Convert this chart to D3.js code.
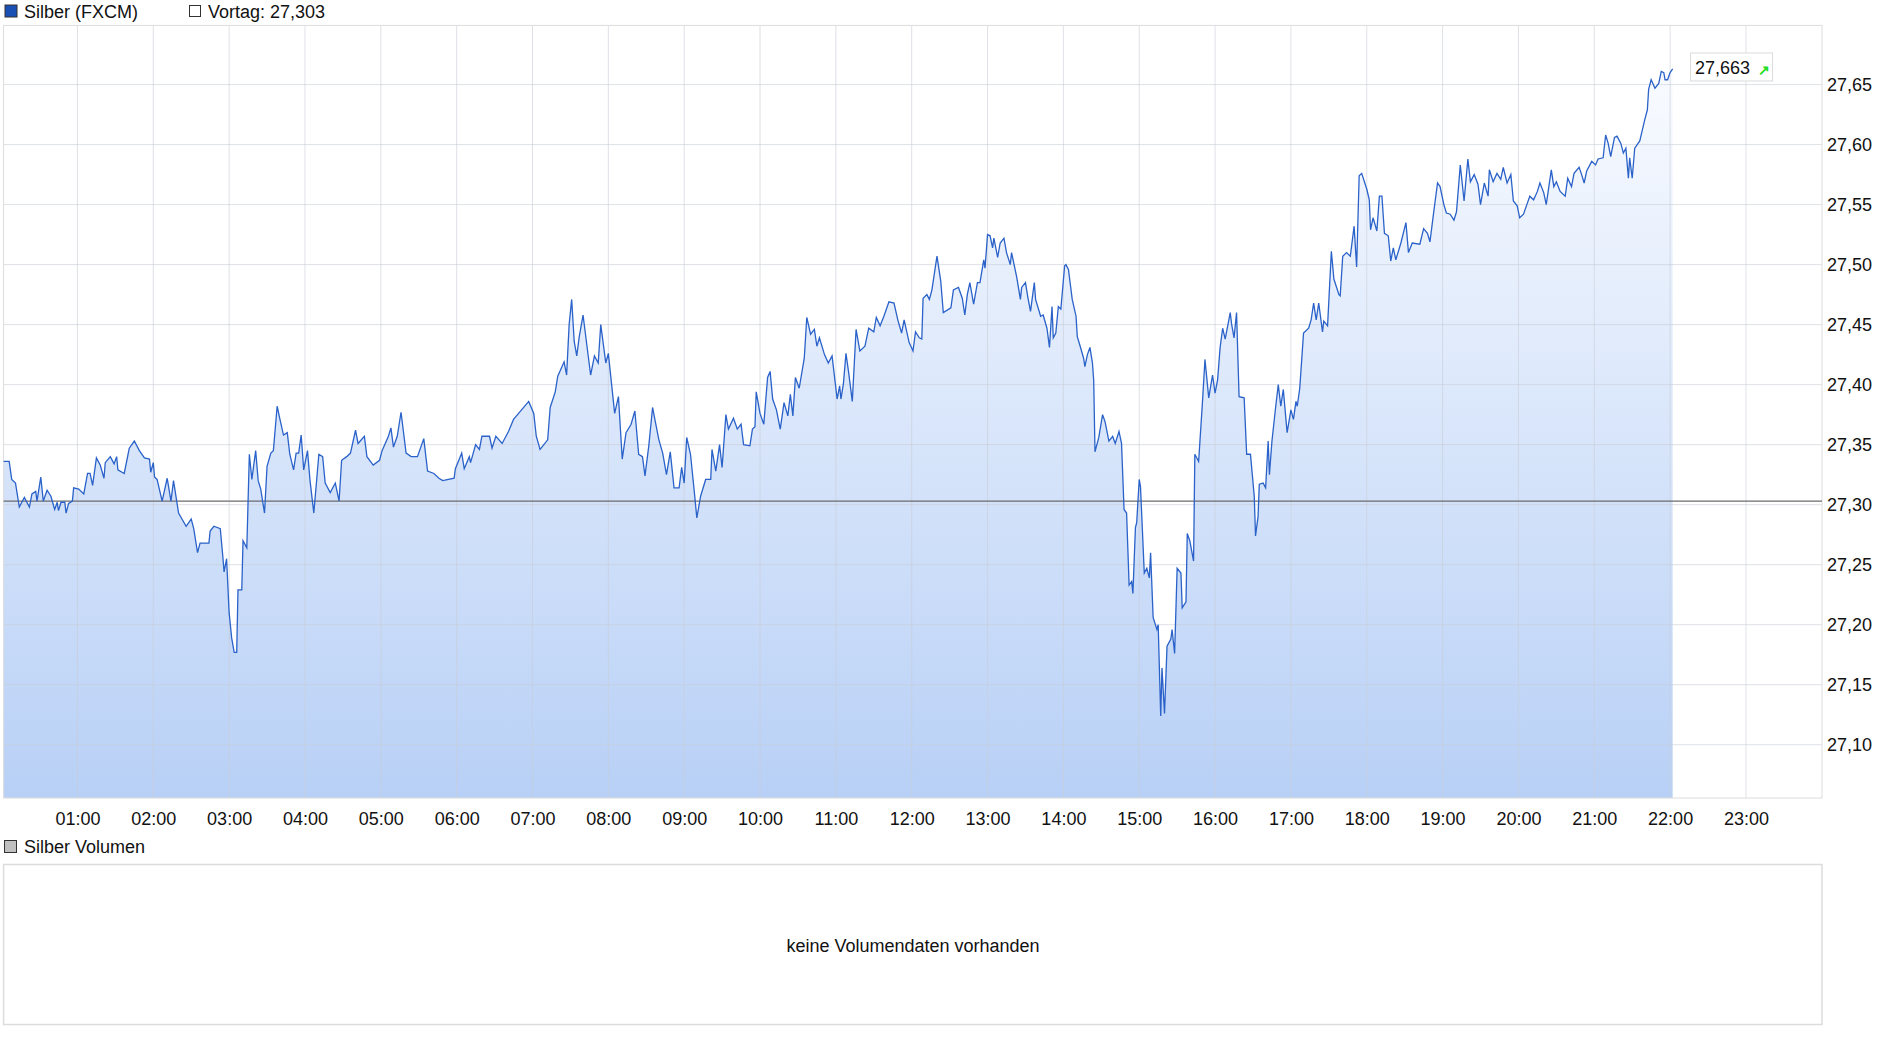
<!DOCTYPE html>
<html><head><meta charset="utf-8">
<script src="https://cdn.jsdelivr.net/npm/d3@7"></script>
<style>body{margin:0;background:#fff}svg{display:block;font-family:"Liberation Sans",Arial,sans-serif}</style>
</head><body><svg id="c" width="1880" height="1037"></svg>
<script>
// minutes after midnight
const times = [0,3,6,8,11,14,18,22,24,27,28,31,33,36,39,42,44,45,47,50,51,53,56,57,61,65,68,70,72,75,78,81,82,86,89,91,92,97,101,105,109,113,117,118,120,121,
123,127,131,134,136,140,146,150,152,155,157,164,165,168,173,175,176,178,180,182,184,186,187,190,191,194,196,198,201,203,205,208,210,213,215,218,220,223,226,228,231,233,235,237,239,242,244,247,251,254,256,260,264,267,269,273,276,280,282,287,289,294,299,301,306,308,310,313,316,320,324,329,334,337,342,346,349,358,359,364,366,370,
371,375,378,380,386,388,391,396,401,405,409,413,417,421,423,426,432,434,438,440,445,447,449,451,453,455,457,460,463,466,469,472,474,478,480,483,485,488,491,494,498,501,504,507,509,512,515,517,520,523,526,529,532,536,538,540,542,545,548,550,553,557,561,562,565,568,570,573,575,579,582,585,587,592,594,596,597,600,603,606,608,610,613,616,619,622,624,626,628,631,635,637,640,643,645,647,651,654,657,661,663,664,666,668,670,673,676,679,683,686,690,692,695,698,702,706,709,712,714,718,721,723,726,728,729,732,734,736,740,743,
745,751,753,757,760,762,764,766,769,772,774,777,778,780,782,784,785,788,790,793,795,798,799,803,806,807,810,812,814,817,818,822,824,827,829,831,832,834,836,838,841,842,844,847,850,851,853,856,857,859,861,863,864,865,868,871,873,876,879,881,884,886,888,890,892,894,895,897,898,900,901,904,906,908,909,911,914,915,917,918,920,922,925,926,928,930,933,934,937,938,940,943,944,947,950,952,955,958,960,962,964,966,968,972,973,975,977,979,983,985,988,991,992,994,995,998,1000,1002,1003,1005,1008,1010,1012,1014,1017,1020,1022,1024,1025,1027,1030,1034,1036,1038,1040,1042,1045,1046,1049,1052,1054,1058,1059,1061,1064,1067,1070,1072,
1074,1076,1080,1082,1083,1085,1088,1090,1092,1094,1097,1099,1101,1103,1107,1111,1113,1116,1122,1125,1128,1130,1133,1136,1138,1141,1143,1146,1149,1151,1154,1157,1160,1162,1165,1168,1170,1173,1176,1177,1180,1183,1186,1188,1191,1194,1196,1199,1201,1204,1207,1209,1212,1215,1217,1220,1222,1226,1228,1230,1233,1237,1239,1242,1244,1248,1250,1252,1254,1258,1261,1263,1267,1269,1271,1273,1276,1278,1281,1283,1285,1287,1288,1290,1292,1296,1298,1300,1302,1303,1305,1308,1311,1313,1315,1316,1318,1320,1322];
const prices = [27.336,27.336,27.336,27.321,27.318,27.298,27.306,27.298,27.309,27.311,27.303,27.323,27.303,27.312,27.307,27.296,27.302,27.295,27.302,27.302,27.293,27.301,27.303,27.314,27.313,27.309,27.326,27.326,27.316,27.339,27.333,27.322,27.335,27.340,27.334,27.340,27.329,27.326,27.347,27.353,27.345,27.339,27.338,27.327,27.335,27.323,
27.321,27.303,27.322,27.303,27.320,27.293,27.282,27.288,27.280,27.260,27.268,27.268,27.278,27.282,27.280,27.257,27.244,27.255,27.210,27.189,27.177,27.177,27.229,27.229,27.270,27.264,27.342,27.321,27.345,27.320,27.313,27.293,27.332,27.343,27.345,27.382,27.372,27.358,27.360,27.342,27.329,27.343,27.343,27.358,27.329,27.345,27.320,27.293,27.342,27.340,27.318,27.310,27.318,27.303,27.337,27.340,27.343,27.362,27.351,27.357,27.340,27.333,27.337,27.345,27.357,27.364,27.348,27.357,27.377,27.343,27.340,27.340,27.355,27.328,27.326,27.322,27.320,27.322,27.330,27.343,27.330,27.340,
27.335,27.350,27.346,27.357,27.357,27.347,27.357,27.351,27.361,27.371,27.376,27.381,27.386,27.376,27.357,27.346,27.354,27.381,27.394,27.407,27.419,27.408,27.450,27.471,27.436,27.424,27.440,27.458,27.433,27.408,27.424,27.418,27.450,27.418,27.426,27.396,27.376,27.390,27.338,27.360,27.367,27.378,27.342,27.340,27.324,27.349,27.381,27.370,27.354,27.343,27.325,27.344,27.314,27.314,27.331,27.318,27.356,27.342,27.311,27.289,27.307,27.321,27.321,27.346,27.328,27.350,27.331,27.375,27.363,27.372,27.363,27.367,27.350,27.349,27.363,27.365,27.394,27.376,27.367,27.406,27.411,27.388,27.379,27.363,27.385,27.374,27.392,27.374,27.406,27.397,27.422,27.456,27.442,27.446,27.432,27.439,27.425,27.418,27.424,27.388,27.399,27.388,27.401,27.426,27.411,27.386,27.446,27.428,27.432,27.447,27.444,27.456,27.449,27.457,27.469,27.468,27.454,27.443,27.454,27.435,27.428,27.444,27.439,27.438,27.472,27.475,27.471,27.479,27.507,27.486,
27.460,27.464,27.479,27.481,27.472,27.458,27.475,27.485,27.467,27.485,27.485,27.504,27.497,27.525,27.524,27.514,27.522,27.506,27.518,27.522,27.510,27.500,27.510,27.490,27.471,27.481,27.485,27.472,27.461,27.485,27.471,27.457,27.458,27.447,27.431,27.465,27.439,27.443,27.465,27.463,27.499,27.500,27.496,27.471,27.457,27.440,27.433,27.422,27.415,27.425,27.431,27.418,27.403,27.344,27.356,27.375,27.369,27.353,27.357,27.351,27.361,27.351,27.296,27.293,27.233,27.236,27.226,27.281,27.285,27.321,27.315,27.243,27.247,27.239,27.260,27.206,27.196,27.200,27.124,27.164,27.126,27.182,27.188,27.196,27.176,27.247,27.243,27.214,27.219,27.276,27.270,27.253,27.342,27.336,27.385,27.421,27.389,27.408,27.393,27.404,27.431,27.447,27.438,27.460,27.451,27.439,27.460,27.390,27.389,27.342,27.342,27.307,27.274,27.290,27.317,27.318,27.314,27.353,27.325,27.353,27.382,27.400,27.382,27.396,27.360,27.379,27.371,27.386,27.382,27.397,27.443,27.447,27.454,27.468,27.454,27.468,27.444,27.453,27.449,27.511,27.488,27.475,27.474,27.507,27.510,27.507,27.532,27.498,
27.574,27.576,27.563,27.554,27.529,27.539,27.528,27.557,27.557,27.526,27.524,27.503,27.514,27.504,27.518,27.535,27.510,27.518,27.517,27.530,27.526,27.519,27.544,27.568,27.565,27.550,27.543,27.542,27.537,27.544,27.583,27.553,27.588,27.569,27.575,27.567,27.550,27.568,27.557,27.579,27.569,27.576,27.571,27.581,27.568,27.575,27.553,27.549,27.539,27.542,27.551,27.557,27.554,27.561,27.568,27.560,27.550,27.579,27.565,27.569,27.561,27.557,27.572,27.565,27.576,27.581,27.575,27.568,27.578,27.586,27.583,27.588,27.589,27.608,27.601,27.590,27.606,27.607,27.601,27.593,27.597,27.572,27.589,27.572,27.597,27.603,27.612,27.621,27.629,27.646,27.654,27.647,27.651,27.661,27.660,27.654,27.654,27.660,27.663];
const hourTicks = d3.range(60, 1440, 60);
const hourLabels = hourTicks.map(m => String(m/60).padStart(2,"0") + ":00");
const priceTicks = [27.10,27.15,27.20,27.25,27.30,27.35,27.40,27.45,27.50,27.55,27.60,27.65];
const prevClose = 27.303;
const lastPrice = 27.663;

const svg = d3.select("#c");
const L = 3.6, R = 1822, T = 25.4, B = 798;
const x = d3.scaleLinear().domain([0,1440]).range([1.6,1821.8]);
const y = d3.scaleLinear().domain([27.0556,27.6993]).range([B,T]);
const fmt = v => v.toFixed(2).replace(".", ",");

const defs = svg.append("defs");
const g = defs.append("linearGradient").attr("id","fill").attr("x1",0).attr("x2",0).attr("y1",0).attr("y2",1);
g.append("stop").attr("offset","0%").attr("stop-color","#f9fbff");
g.append("stop").attr("offset","100%").attr("stop-color","#b8d0f6");
defs.append("clipPath").attr("id","clip").append("rect").attr("x",L).attr("y",T).attr("width",R-L).attr("height",B-T);

const data = times.map((t,i)=>({t, v:prices[i]}));
svg.append("path").datum(data).attr("clip-path","url(#clip)")
  .attr("d", d3.area().x(d=>x(d.t)).y0(B).y1(d=>y(d.v))).attr("fill","url(#fill)");

// grid
svg.append("g").selectAll("line").data(hourTicks).join("line")
  .attr("x1",d=>x(d)).attr("x2",d=>x(d)).attr("y1",T).attr("y2",B)
  .attr("stroke","#c8cdd6").attr("stroke-opacity",0.6);
svg.append("g").selectAll("line").data(priceTicks).join("line")
  .attr("x1",L).attr("x2",R).attr("y1",d=>y(d)).attr("y2",d=>y(d))
  .attr("stroke","#c8cdd6").attr("stroke-opacity",0.6);
svg.append("rect").attr("x",L).attr("y",T).attr("width",R-L).attr("height",B-T)
  .attr("fill","none").attr("stroke","#dcdcdc");

svg.append("line").attr("x1",L).attr("x2",R).attr("y1",y(prevClose)).attr("y2",y(prevClose))
  .attr("stroke","#6b6b6b").attr("stroke-width",1.2);

svg.append("path").datum(data).attr("clip-path","url(#clip)")
  .attr("d", d3.line().x(d=>x(d.t)).y(d=>y(d.v))).attr("fill","none")
  .attr("stroke","#2a62c9").attr("stroke-width",1.3);

// axes
const xa = svg.append("g").attr("transform",`translate(0,${B})`)
  .call(d3.axisBottom(x).tickValues(hourTicks).tickFormat((d,i)=>hourLabels[i]).tickSize(0).tickPadding(14));
xa.select(".domain").remove();
xa.selectAll("text").attr("font-size",18).attr("fill","#111").attr("font-family","Liberation Sans, Arial");
const ya = svg.append("g").attr("transform",`translate(${R+5},0)`)
  .call(d3.axisRight(y).tickValues(priceTicks).tickFormat(fmt).tickSize(0).tickPadding(0));
ya.select(".domain").remove();
ya.selectAll("text").attr("font-size",18).attr("fill","#111").attr("font-family","Liberation Sans, Arial");

// legend
svg.append("rect").attr("x",5).attr("y",5).attr("width",12).attr("height",12).attr("fill","#1a4fb3").attr("stroke","#333");
svg.append("text").attr("x",24).attr("y",18).attr("font-size",18).attr("fill","#111").text("Silber (FXCM)");
svg.append("rect").attr("x",189.5).attr("y",5.5).attr("width",11).attr("height",11).attr("fill","#fff").attr("stroke","#333");
svg.append("text").attr("x",208).attr("y",18).attr("font-size",18).attr("fill","#111").text("Vortag: " + prevClose.toFixed(3).replace(".",","));

// last price label
const ly = y(lastPrice);
svg.append("rect").attr("x",1690.5).attr("y",ly-16).attr("width",82).attr("height",28).attr("fill","#fff").attr("stroke","#dcdcdc");
svg.append("text").attr("x",1695).attr("y",ly+5).attr("font-size",18).attr("fill","#111").text(lastPrice.toFixed(3).replace(".",","));
svg.append("text").attr("x",1758).attr("y",ly+6).attr("font-size",14).attr("fill","#22dd22").attr("font-weight","bold").text("↗");

// volume panel
svg.append("rect").attr("x",4.5).attr("y",840.5).attr("width",12).attr("height",12).attr("fill","#c0c0c0").attr("stroke","#333");
svg.append("text").attr("x",24).attr("y",853).attr("font-size",18).attr("fill","#111").text("Silber Volumen");
svg.append("rect").attr("x",L).attr("y",864.5).attr("width",R-L).attr("height",160).attr("fill","#fff").attr("stroke","#dcdcdc").attr("stroke-width",1.5);
svg.append("text").attr("x",913).attr("y",952).attr("text-anchor","middle").attr("font-size",18).attr("fill","#111").text("keine Volumendaten vorhanden");
</script></body></html>
